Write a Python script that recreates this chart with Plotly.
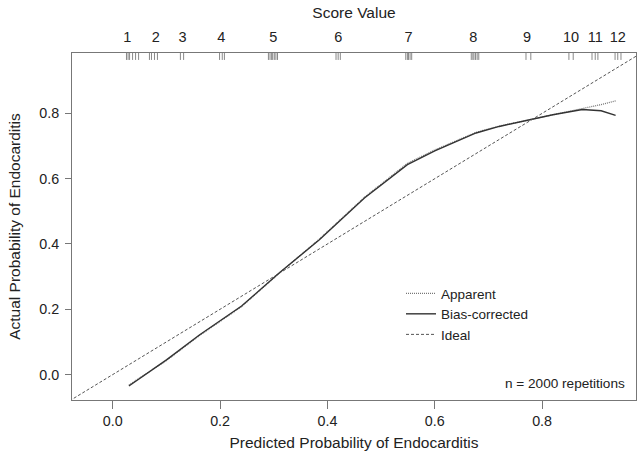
import plotly.graph_objects as go

# ---- data ----
pred_bias = [0.03, 0.10, 0.162, 0.24, 0.31, 0.385, 0.469, 0.549, 0.60, 0.677, 0.72, 0.770, 0.82, 0.875, 0.91, 0.937]
actual_bias = [-0.035, 0.045, 0.122, 0.21, 0.311, 0.413, 0.541, 0.643, 0.685, 0.740, 0.760, 0.778, 0.796, 0.812, 0.808, 0.794]

pred_apparent = [0.03, 0.10, 0.162, 0.24, 0.31, 0.385, 0.469, 0.549, 0.60, 0.677, 0.72, 0.770, 0.82, 0.875, 0.91, 0.937]
actual_apparent = [-0.032, 0.043, 0.120, 0.208, 0.310, 0.415, 0.543, 0.647, 0.688, 0.742, 0.761, 0.778, 0.797, 0.815, 0.827, 0.838]

ideal_x = [-0.2, 1.2]
ideal_y = [-0.2, 1.2]

score_labels = ["1", "2", "3", "4", "5", "6", "7", "8", "9", "10", "11", "12"]
score_probs = [0.027, 0.080, 0.130, 0.202, 0.299, 0.420, 0.551, 0.672, 0.772, 0.854, 0.899, 0.941]

rug_values = [
    0.0255, 0.0285, 0.0313, 0.0369, 0.0425, 0.0481,
    0.0683, 0.0721, 0.0777, 0.0832,
    0.126, 0.132,
    0.199, 0.204, 0.208,
    0.290, 0.293, 0.296, 0.298, 0.301, 0.304, 0.307,
    0.416, 0.420, 0.424,
    0.546, 0.549, 0.551, 0.554, 0.557,
    0.668, 0.671, 0.673, 0.676, 0.679, 0.682,
    0.770, 0.779,
    0.850, 0.858,
    0.893, 0.899, 0.904,
    0.936, 0.941, 0.947,
]

x_range = [-0.076, 0.975]
y_range = [-0.078, 0.985]

FONT = "Liberation Sans, Arial, sans-serif"
TXT = "#222222"
FRAME = "#777777"

fig = go.Figure()

fig.add_trace(go.Scatter(x=pred_apparent, y=actual_apparent, mode="lines", name="Apparent",
                         line=dict(color="#777777", width=1.3, dash="1px,1px")))
fig.add_trace(go.Scatter(x=pred_bias, y=actual_bias, mode="lines", name="Bias-corrected",
                         line=dict(color="#333333", width=1.4)))
fig.add_trace(go.Scatter(x=ideal_x, y=ideal_y, mode="lines", name="Ideal",
                         line=dict(color="#555555", width=1, dash="3px,2px")))
# invisible trace to activate the top axis
fig.add_trace(go.Scatter(x=score_probs, y=[None] * len(score_probs), xaxis="x2", mode="lines",
                         showlegend=False, hoverinfo="skip"))

for v in rug_values:
    fig.add_shape(type="line", xref="x", yref="paper", x0=v, x1=v, y0=1.0, y1=0.98,
                  line=dict(color="#888888", width=1))

fig.add_annotation(text="n = 2000 repetitions", xref="paper", yref="paper",
                   x=(627 - 72) / 564, y=(400 - 383) / 347,
                   xanchor="right", yanchor="middle", showarrow=False,
                   font=dict(family=FONT, size=13.6, color=TXT))

fig.update_layout(
    width=642, height=456,
    margin=dict(l=72, r=6, t=53, b=56),
    paper_bgcolor="white", plot_bgcolor="white",
    font=dict(family=FONT, size=14.3, color=TXT),
    xaxis=dict(range=x_range, tickvals=[0, 0.2, 0.4, 0.6, 0.8], ticktext=["0.0", "0.2", "0.4", "0.6", "0.8"],
               ticks="outside", ticklen=8, tickcolor=FRAME, showgrid=False, zeroline=False,
               showline=True, linecolor=FRAME, mirror=True, linewidth=1, automargin=False,
               title=dict(text="Predicted Probability of Endocarditis", standoff=8, font=dict(size=15.5))),
    yaxis=dict(range=y_range, tickvals=[0, 0.2, 0.4, 0.6, 0.8], ticktext=["0.0", "0.2", "0.4", "0.6", "0.8"],
               ticks="outside", ticklen=6, tickcolor=FRAME, showgrid=False, zeroline=False,
               showline=True, linecolor=FRAME, mirror=True, linewidth=1, automargin=False,
               ticklabelstandoff=3,
               title=dict(text="Actual Probability of Endocarditis", standoff=14, font=dict(size=15.5))),
    xaxis2=dict(overlaying="x", side="top", range=x_range, tickvals=score_probs, ticktext=score_labels,
                ticks="outside", ticklen=4, tickcolor="rgba(0,0,0,0)", showgrid=False, zeroline=False,
                showline=False, automargin=False, tickfont=dict(size=14.5),
                title=dict(text="Score Value", standoff=6, font=dict(size=15.5))),
    legend=dict(x=(401 - 72) / 564, y=(400 - 278) / 347, xanchor="left", yanchor="top",
                bgcolor="rgba(0,0,0,0)", font=dict(size=13.5), tracegroupgap=0, itemwidth=30),
    showlegend=True,
)

fig.write_html("out.html", config={"displayModeBar": False},
               post_script="document.body.style.margin='0';")
